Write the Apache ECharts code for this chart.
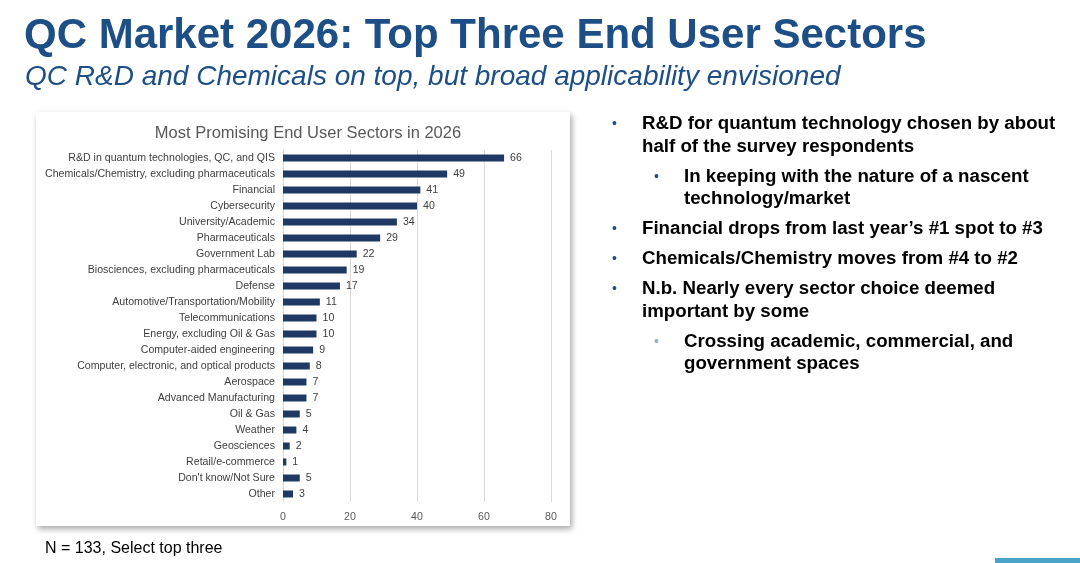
<!DOCTYPE html>
<html><head><meta charset="utf-8">
<script src="https://cdn.jsdelivr.net/npm/echarts@6/dist/echarts.min.js"></script>
<style>html,body{margin:0;padding:0;background:#fff}#c{width:1080px;height:563px}</style>
</head><body><div id="c"></div>
<script>
const categories = ["R&D in quantum technologies, QC, and QIS","Chemicals/Chemistry, excluding pharmaceuticals","Financial","Cybersecurity","University/Academic","Pharmaceuticals","Government Lab","Biosciences, excluding pharmaceuticals","Defense","Automotive/Transportation/Mobility","Telecommunications","Energy, excluding Oil & Gas","Computer-aided engineering","Computer, electronic, and optical products","Aerospace","Advanced Manufacturing","Oil & Gas","Weather","Geosciences","Retail/e-commerce","Don't know/Not Sure","Other"];
const values = [66,49,41,40,34,29,22,19,17,11,10,10,9,8,7,7,5,4,2,1,5,3];
const xTicks = [0,20,40,60,80];
const slideTitle = "QC Market 2026: Top Three End User Sectors";
const slideSubtitle = "QC R&D and Chemicals on top, but broad applicability envisioned";
const chartTitle = "Most Promising End User Sectors in 2026";
const note = "N = 133, Select top three";
const bullets = [
  {level:0, lines:["R&D for quantum technology chosen by about","half of the survey respondents"]},
  {level:1, lines:["In keeping with the nature of a nascent","technology/market"]},
  {level:0, lines:["Financial drops from last year\u2019s #1 spot to #3"]},
  {level:0, lines:["Chemicals/Chemistry moves from #4 to #2"]},
  {level:0, lines:["N.b. Nearly every sector choice deemed","important by some"]},
  {level:1, lines:["Crossing academic, commercial, and","government spaces"], light:true}
];

const graphics = [];
graphics.push({type:'rect', z:-10, shape:{x:36,y:112,width:534,height:414},
  style:{fill:'#fff', shadowBlur:6, shadowOffsetX:2, shadowOffsetY:3, shadowColor:'rgba(0,0,0,0.35)'}});
graphics.push({type:'text', left:24, top:15, style:{text:slideTitle, font:'bold 42px "Liberation Sans", Arial', fill:'#1d4f86'}});
graphics.push({type:'text', left:25, top:63, style:{text:slideSubtitle, font:'italic 28px "Liberation Sans", Arial', fill:'#1d4f86'}});
graphics.push({type:'text', left:45, top:541, style:{text:note, font:'16px "Liberation Sans", Arial', fill:'#000'}});
graphics.push({type:'rect', shape:{x:995,y:558,width:85,height:5}, style:{fill:'#4aa3c8'}});

let y = 114.5;
const lh = 22.5;
bullets.forEach((b, i) => {
  if (i > 0) y += 7.5;
  const bx = b.level === 0 ? 612 : 654;
  const tx = b.level === 0 ? 642 : 684;
  graphics.push({type:'text', left:bx, top:y+3, style:{text:'\u2022', font:'14px "Liberation Sans", Arial', fill: b.light ? '#7fb6dc' : '#1d4f86'}});
  b.lines.forEach((ln) => {
    graphics.push({type:'text', left:tx, top:y, style:{text:ln, font:'bold 18.7px "Liberation Sans", Arial', fill:'#000'}});
    y += lh;
  });
});

const chart = echarts.init(document.getElementById('c'));
chart.setOption({
  animation:false,
  title:{text:chartTitle, left:303, top:120, textAlign:'center',
    textStyle:{fontFamily:'"Liberation Sans", Arial', fontSize:16.5, fontWeight:'normal', color:'#595959'}},
  grid:{left:283, right:529, top:150, bottom:61, containLabel:false},
  xAxis:{type:'value', min:0, max:80, interval:20,
    axisLine:{show:false}, axisTick:{show:false},
    splitLine:{lineStyle:{color:'#d9d9d9', width:1}},
    axisLabel:{color:'#595959', fontSize:10.6, fontFamily:'"Liberation Sans", Arial', margin:10,
      formatter:(v)=> xTicks.includes(v) ? String(v) : ''}},
  yAxis:{type:'category', data:categories, inverse:true,
    axisLine:{show:true, lineStyle:{color:'#d9d9d9'}}, axisTick:{show:false},
    axisLabel:{color:'#404040', fontSize:10.6, fontFamily:'"Liberation Sans", Arial', margin:8}},
  series:[{type:'bar', data:values, barWidth:7, itemStyle:{color:'#1f3864'},
    label:{show:true, position:'right', distance:6, color:'#404040', fontSize:10.6, fontFamily:'"Liberation Sans", Arial'}}],
  graphic:graphics
});
</script></body></html>
